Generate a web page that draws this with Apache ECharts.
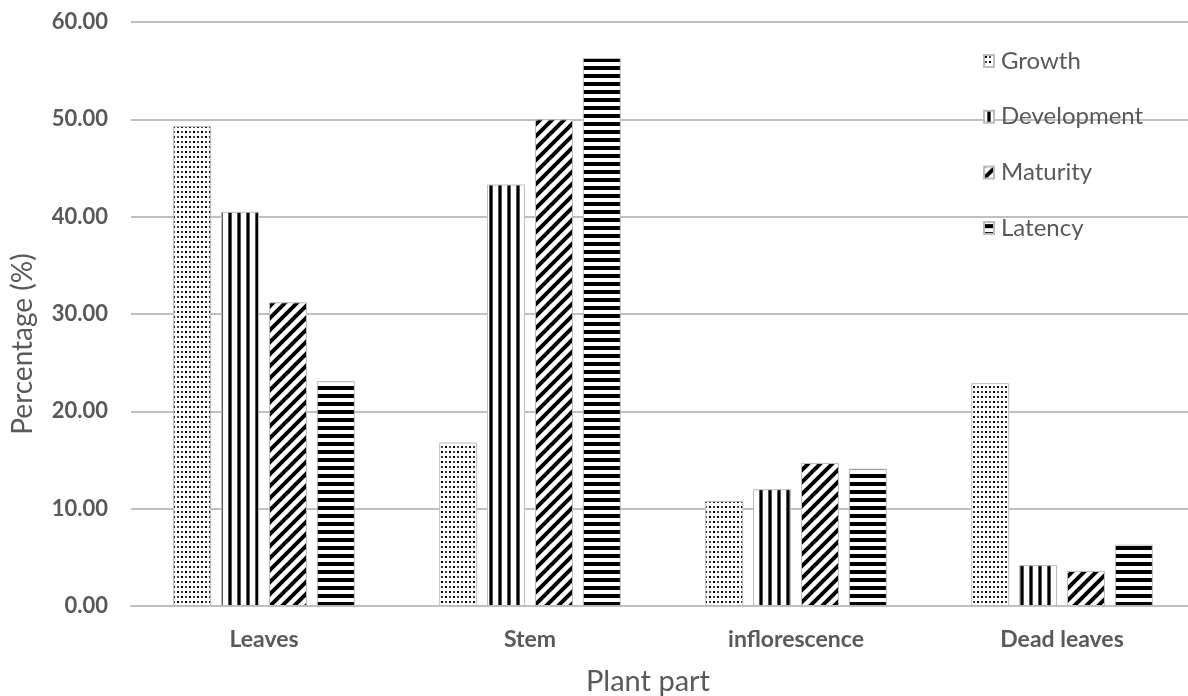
<!DOCTYPE html>
<html>
<head>
<meta charset="utf-8">
<script src="https://cdn.jsdelivr.net/npm/echarts@6/dist/echarts.min.js"></script>
<style>
  html, body { margin: 0; padding: 0; background: #fff; overflow: hidden; }
  #chart { width: 1200px; height: 696px; }
</style>
</head>
<body>
<div id="chart"></div>
<script>
// Plant parts on the x axis
const categories = ['Leaves', 'Stem', 'inflorescence', 'Dead leaves'];

// Percentage of biomass per plant part, one array per phenological stage
const growth      = [49.3, 16.8, 10.8, 22.9];
const development = [40.5, 43.3, 12.0, 4.2];
const maturity    = [31.2, 50.0, 14.7, 3.6];
const latency     = [23.1, 56.3, 14.1, 6.3];

const seriesNames = ['Growth', 'Development', 'Maturity', 'Latency'];

// Value-axis ticks
const yTicks = [0, 10, 20, 30, 40, 50, 60];

// --- hatch fills drawn on small canvases ---
function tile(w, h, draw) {
  const c = document.createElement('canvas');
  c.width = w; c.height = h;
  const ctx = c.getContext('2d');
  ctx.fillStyle = '#fff';
  ctx.fillRect(0, 0, w, h);
  ctx.fillStyle = '#000';
  ctx.strokeStyle = '#000';
  draw(ctx);
  return { image: c, repeat: 'repeat' };
}

const dotFill = tile(8, 10, ctx => {
  ctx.fillStyle = '#000';
  ctx.fillRect(1, 1, 2, 2);
  ctx.fillRect(5, 6, 2, 2);
  ctx.fillStyle = '#444';
  ctx.fillRect(5, 1, 2, 2);
  ctx.fillRect(1, 6, 2, 2);
});

const vLineFill = tile(9, 4, ctx => {
  ctx.fillStyle = '#555';
  ctx.fillRect(3, 0, 4, 4);
  ctx.fillStyle = '#000';
  ctx.fillRect(4, 0, 2, 4);
});

const diagFill = tile(12, 12, ctx => {
  ctx.lineWidth = 4;
  ctx.beginPath();
  ctx.moveTo(-3, 15); ctx.lineTo(15, -3);
  ctx.moveTo(-9, 9);  ctx.lineTo(9, -9);
  ctx.moveTo(3, 21);  ctx.lineTo(21, 3);
  ctx.stroke();
});

const hLineFill = tile(4, 8, ctx => {
  ctx.fillRect(0, 2, 4, 4);
});

const fills = [dotFill, vLineFill, diagFill, hLineFill];
const values = [growth, development, maturity, latency];

const textGray = '#595959';
const gridGray = '#c0c0c0';

const chart = echarts.init(document.getElementById('chart'), null, { renderer: 'canvas' });

chart.setOption({
  animation: false,
  backgroundColor: '#fff',
  grid: { left: 131, top: 22, width: 1064, height: 584, containLabel: false },
  legend: {
    orient: 'vertical',
    left: 978,
    top: 44,
    itemWidth: 10,
    itemHeight: 12,
    itemGap: 31.7,
    icon: 'rect',
    textStyle: { color: textGray, fontFamily: 'Lato', fontSize: 24, lineHeight: 24, padding: [0, 0, 0, 2] },
    data: seriesNames
  },
  xAxis: {
    type: 'category',
    data: categories,
    axisLine: { lineStyle: { color: gridGray, width: 2 } },
    axisTick: { show: false },
    axisLabel: { color: textGray, fontFamily: 'Lato', fontWeight: 'bold', fontSize: 23, margin: 22 }
  },
  yAxis: {
    type: 'value',
    min: 0,
    max: 60,
    interval: 10,
    axisLine: { show: false },
    axisTick: { show: false },
    splitLine: { lineStyle: { color: gridGray, width: 2 } },
    axisLabel: {
      color: textGray, fontFamily: 'Lato', fontWeight: 'bold', fontSize: 22, margin: 23,
      formatter: v => yTicks.includes(v) ? v.toFixed(2) : ''
    }
  },
  graphic: [
    {
      type: 'text',
      rotation: Math.PI / 2,
      x: 9, y: 344,
      style: { text: 'Percentage (%)', fill: textGray, font: '28px Lato', align: 'center', verticalAlign: 'top' }
    },
    {
      type: 'text',
      x: 648, y: 682,
      style: { text: 'Plant part', fill: textGray, font: '29px Lato', align: 'center', verticalAlign: 'middle' }
    }
  ],
  series: seriesNames.map((name, i) => ({
    name,
    type: 'bar',
    data: values[i],
    barWidth: 38,
    barGap: '26%',
    itemStyle: { color: fills[i], borderColor: '#bdbdbd', borderWidth: 1 }
  }))
});
</script>
</body>
</html>
